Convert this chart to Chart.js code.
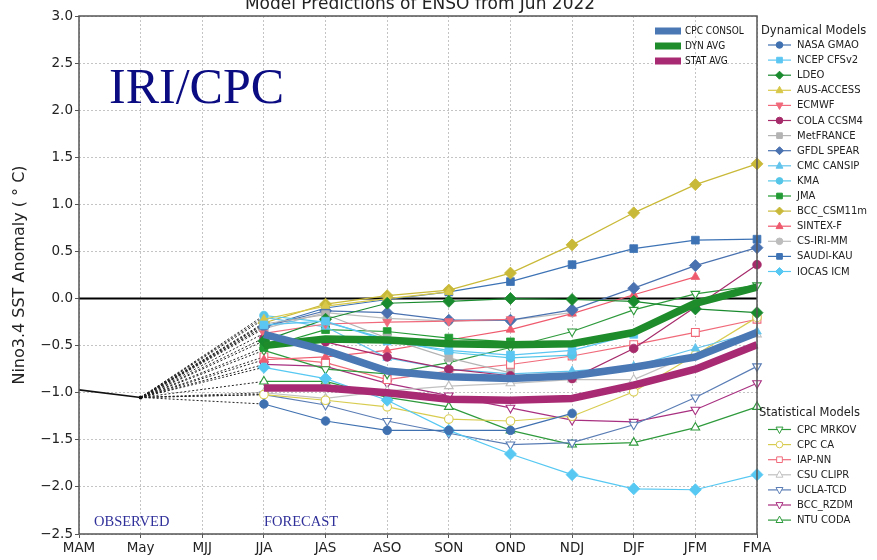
<!DOCTYPE html>
<html>
<head>
<meta charset="utf-8">
<script src="https://cdn.jsdelivr.net/npm/chart.js@4.4.0/dist/chart.umd.min.js"></script>
<style>
  body { margin: 0; background: #fff; }
  #wrap { width: 877px; height: 560px; position: relative; }
</style>
</head>
<body>
<div id="wrap"><canvas id="ensoChart" width="877" height="560"></canvas></div>
<script>
// seasons on the x axis
const months = ['MAM', 'May', 'MJJ', 'JJA', 'JAS', 'ASO', 'SON', 'OND', 'NDJ', 'DJF', 'JFM', 'FMA'];
const observed = [-0.97, -1.05];
const firstLead = 3; // forecasts start at JJA

// averages, JJA .. FMA
const cpcConsol = [-0.38, -0.55, -0.77, -0.83, -0.85, -0.82, -0.73, -0.62, -0.36];
const dynAvg    = [-0.50, -0.43, -0.44, -0.48, -0.49, -0.48, -0.36, -0.05, 0.12];
const statAvg   = [-0.95, -0.95, -1.00, -1.07, -1.08, -1.06, -0.92, -0.75, -0.49];

// dynamical models
const nasaGmao  = [-1.12, -1.30, -1.40, -1.40, -1.40, -1.22, null, null, null];
const ncepCfs   = [-0.28, -0.24, -0.45, -0.55, -0.60, -0.55, -0.38, null, null];
const ldeo      = [-0.45, -0.22, -0.05, -0.03, 0.00, -0.01, -0.03, -0.11, -0.15];
const ausAccess = [-0.22, -0.08, 0.00, 0.07, null, null, null, null, null];
const ecmwf     = [-0.37, -0.27, -0.25, -0.24, -0.22, null, null, null, null];
const colaCcsm4 = [-0.42, -0.46, -0.62, -0.75, -0.82, -0.85, -0.53, -0.09, 0.36];
const metFrance = [-0.27, -0.17, -0.42, -0.63, -0.79, null, null, null, null];
const gfdlSpear = [-0.30, -0.13, -0.15, -0.23, -0.23, -0.12, 0.11, 0.35, 0.54];
const cmcCansip = [-0.20, -0.30, -0.63, -0.75, -0.80, -0.77, -0.72, -0.53, -0.35];
const kma       = [-0.18, -0.25, -0.43, -0.57, -0.63, -0.60, null, null, null];
const jma       = [-0.52, -0.33, -0.35, -0.42, -0.46, null, null, null, null];
const bccCsm11m = [-0.26, -0.06, 0.03, 0.09, 0.27, 0.57, 0.91, 1.21, 1.43];
const sintexF   = [-0.65, -0.62, -0.55, -0.44, -0.33, -0.16, 0.04, 0.23, null];
const csIriMm   = [-0.32, -0.15, -0.21, -0.24, -0.23, -0.15, null, null, null];
const saudiKau  = [-0.30, -0.10, -0.01, 0.07, 0.18, 0.36, 0.53, 0.62, 0.63];
const iocasIcm  = [-0.73, -0.85, -1.08, -1.40, -1.65, -1.87, -2.02, -2.03, -1.87];

// statistical models
const cpcMrkov  = [-0.55, -0.75, -0.80, -0.68, -0.52, -0.35, -0.12, 0.05, 0.14];
const cpcCa     = [-1.02, -1.08, -1.15, -1.28, -1.30, -1.25, -0.99, -0.60, -0.20];
const iapNn     = [-0.62, -0.68, -0.86, -0.77, -0.70, -0.61, -0.49, -0.36, -0.22];
const csuClipr  = [-1.00, -1.06, -0.98, -0.93, -0.90, -0.86, -0.86, -0.58, -0.38];
const uclaTcd   = [-1.02, -1.13, -1.30, -1.43, -1.55, -1.53, -1.34, -1.05, -0.72];
const bccRzdm   = [-0.70, -0.72, -0.90, -1.03, -1.16, -1.29, -1.31, -1.18, -0.90];
const ntuCoda   = [-0.88, -0.88, -1.05, -1.15, -1.40, -1.55, -1.53, -1.37, -1.15];

// name, values, colour, marker, open marker, rotation
const dynModels = [
  ['NASA GMAO', nasaGmao, '#3f70b0', 'circle', false, 0],
  ['NCEP CFSv2', ncepCfs, '#5cc6f2', 'rect', false, 0],
  ['LDEO', ldeo, '#1a8a2e', 'rectRot', false, 0],
  ['AUS-ACCESS', ausAccess, '#d8c84a', 'triangle', false, 0],
  ['ECMWF', ecmwf, '#f06a7c', 'triangle', false, 180],
  ['COLA CCSM4', colaCcsm4, '#a62b6b', 'circle', false, 0],
  ['MetFRANCE', metFrance, '#b4b4b4', 'rect', false, 0],
  ['GFDL SPEAR', gfdlSpear, '#4a72b0', 'rectRot', false, 0],
  ['CMC CANSIP', cmcCansip, '#62c4ec', 'triangle', false, 0],
  ['KMA', kma, '#55c6e8', 'circle', false, 0],
  ['JMA', jma, '#239b35', 'rect', false, 0],
  ['BCC_CSM11m', bccCsm11m, '#c9b938', 'rectRot', false, 0],
  ['SINTEX-F', sintexF, '#ef5b6e', 'triangle', false, 0],
  ['CS-IRI-MM', csIriMm, '#bdbdbd', 'circle', false, 0],
  ['SAUDI-KAU', saudiKau, '#3d73b5', 'rect', false, 0],
  ['IOCAS ICM', iocasIcm, '#56c8f2', 'rectRot', false, 0]
];
const statModels = [
  ['CPC MRKOV', cpcMrkov, '#2e9a3c', 'triangle', true, 180],
  ['CPC CA', cpcCa, '#d8cc50', 'circle', true, 0],
  ['IAP-NN', iapNn, '#f06a7a', 'rect', true, 0],
  ['CSU CLIPR', csuClipr, '#c0c0c0', 'triangle', true, 0],
  ['UCLA-TCD', uclaTcd, '#5a7db5', 'triangle', true, 180],
  ['BCC_RZDM', bccRzdm, '#a83080', 'triangle', true, 180],
  ['NTU CODA', ntuCoda, '#2e9a3c', 'triangle', true, 0]
];
const averages = [
  ['CPC CONSOL', cpcConsol, '#4a78b4'],
  ['DYN AVG', dynAvg, '#1e8c2a'],
  ['STAT AVG', statAvg, '#a82a72']
];

const radiusFor = { circle: 4.3, rect: 5.5, rectRot: 6, triangle: 5 };

function padLead(vals) {
  const out = months.map(() => null);
  vals.forEach((v, i) => { out[firstLead + i] = v; });
  return out;
}

const datasets = [];
// observed line
datasets.push({
  label: 'observed', data: months.map((m, i) => i < observed.length ? observed[i] : null),
  borderColor: '#111', borderWidth: 1.6, pointRadius: [0, 2], pointBackgroundColor: '#111',
  pointBorderWidth: 0, order: 3
});
// dotted connectors from the last observation to each first lead
dynModels.concat(statModels).forEach(m => {
  const d = months.map(() => null);
  d[observed.length - 1] = observed[observed.length - 1];
  d[firstLead] = m[1][0];
  datasets.push({
    label: 'conn ' + m[0], data: d, spanGaps: true, borderColor: '#222', borderWidth: 1,
    borderDash: [2, 2], pointRadius: 0, order: 4
  });
});
dynModels.concat(statModels).forEach(m => {
  datasets.push({
    label: m[0], data: padLead(m[1]), borderColor: m[2], borderWidth: 1.2,
    pointStyle: m[3], pointRotation: m[5], pointRadius: radiusFor[m[3]],
    pointBackgroundColor: m[4] ? '#ffffff' : m[2], pointBorderColor: m[2],
    pointBorderWidth: m[4] ? 1.1 : 0.8, order: 2, clip: false
  });
});
averages.forEach(a => {
  datasets.push({
    label: a[0], data: padLead(a[1]), borderColor: a[2], borderWidth: 7.5,
    pointRadius: 0, order: 1, borderJoinStyle: 'round', clip: false
  });
});

function drawMarker(ctx, style, x, y, r, rot, open, color) {
  ctx.save();
  ctx.translate(x, y);
  ctx.rotate(rot * Math.PI / 180);
  ctx.beginPath();
  if (style === 'circle') {
    ctx.arc(0, 0, r, 0, Math.PI * 2);
  } else if (style === 'rect') {
    const s = r * Math.SQRT1_2;
    ctx.rect(-s, -s, 2 * s, 2 * s);
  } else if (style === 'rectRot') {
    ctx.moveTo(0, -r); ctx.lineTo(r, 0); ctx.lineTo(0, r); ctx.lineTo(-r, 0); ctx.closePath();
  } else {
    ctx.moveTo(0, -r); ctx.lineTo(r * 0.866, r * 0.6); ctx.lineTo(-r * 0.866, r * 0.6); ctx.closePath();
  }
  ctx.fillStyle = open ? '#fff' : color;
  ctx.strokeStyle = color;
  ctx.lineWidth = 1;
  ctx.fill();
  ctx.stroke();
  ctx.restore();
}

const decorations = {
  id: 'decorations',
  beforeDatasetsDraw(chart) {
    const { ctx, chartArea, scales } = chart;
    const y0 = scales.y.getPixelForValue(0);
    ctx.save();
    ctx.strokeStyle = '#000';
    ctx.lineWidth = 2;
    ctx.beginPath();
    ctx.moveTo(chartArea.left, y0);
    ctx.lineTo(chartArea.right, y0);
    ctx.stroke();
    ctx.restore();
  },
  afterDraw(chart) {
    const { ctx, chartArea } = chart;
    ctx.save();
    // frame
    ctx.strokeStyle = '#555';
    ctx.lineWidth = 1.5;
    ctx.strokeRect(chartArea.left, chartArea.top, chartArea.right - chartArea.left, chartArea.bottom - chartArea.top);

    // title, clipped by the top of the canvas
    ctx.fillStyle = '#222';
    ctx.font = '17px "DejaVu Sans"';
    ctx.textAlign = 'center';
    ctx.textBaseline = 'alphabetic';
    ctx.fillText('Model Predictions of ENSO from Jun 2022', 420, 9);

    // labels in the plot
    ctx.textAlign = 'left';
    ctx.fillStyle = '#0b0b82';
    ctx.font = '50px "Liberation Serif"';
    ctx.fillText('IRI/CPC', 109, 103);
    ctx.fillStyle = '#30309a';
    ctx.font = '14.5px "Liberation Serif"';
    ctx.fillText('OBSERVED', 94, 526);
    ctx.fillText('FORECAST', 264, 526);

    // averages legend
    ctx.font = '10px "DejaVu Sans Condensed"';
    ctx.textBaseline = 'middle';
    averages.forEach((a, i) => {
      const y = 31 + i * 15;
      ctx.fillStyle = a[2];
      ctx.fillRect(655, y - 3.5, 26, 7);
      ctx.fillStyle = '#111';
      ctx.fillText(a[0], 685, y + 0.5);
    });

    // model legends
    ctx.font = '11.5px "DejaVu Sans"';
    ctx.fillStyle = '#222';
    ctx.fillText('Dynamical Models', 761, 31);
    ctx.fillText('Statistical Models', 759, 413);
    const drawGroup = (list, top) => {
      list.forEach((m, i) => {
        const y = top + i * 15.1;
        ctx.strokeStyle = m[2];
        ctx.lineWidth = 1.2;
        ctx.beginPath();
        ctx.moveTo(768, y); ctx.lineTo(791, y);
        ctx.stroke();
        drawMarker(ctx, m[3], 779.5, y, m[3] === 'circle' ? 3.3 : 4, m[5], m[4], m[2]);
        ctx.fillStyle = '#222';
        ctx.font = '10px "DejaVu Sans"';
        ctx.fillText(m[0], 797, y + 0.5);
      });
    };
    drawGroup(dynModels, 45);
    drawGroup(statModels, 429.5);
    ctx.restore();
  }
};

const fmt = v => v.toFixed(1).replace('-', '\u2212');

new Chart(document.getElementById('ensoChart'), {
  type: 'line',
  data: { labels: months, datasets: datasets },
  options: {
    responsive: false,
    animation: false,
    devicePixelRatio: 1,
    layout: { padding: { top: 16, right: 120, bottom: 0, left: 10 } },
    plugins: { legend: { display: false }, tooltip: { enabled: false }, title: { display: false } },
    elements: { line: { tension: 0 } },
    scales: {
      x: {
        offset: false,
        grid: { color: '#c4c4c4', lineWidth: 1, tickLength: 4, tickColor: '#555' },
        border: { display: false, dash: [2, 2] },
        ticks: { color: '#222', font: { family: 'DejaVu Sans', size: 13.5 }, padding: 2, maxRotation: 0, autoSkip: false },
        afterFit(scale) { scale.height = 26; }
      },
      y: {
        min: -2.5, max: 3.0,
        grid: { color: '#c4c4c4', lineWidth: 1, tickLength: 4, tickColor: '#555' },
        border: { display: false, dash: [2, 2] },
        ticks: { stepSize: 0.5, color: '#222', font: { family: 'DejaVu Sans', size: 13.5 }, padding: 2, callback: v => fmt(v) },
        title: { display: true, text: 'Nino3.4 SST Anomaly ( \u00b0 C)', color: '#222', font: { family: 'DejaVu Sans', size: 16 }, padding: 0 },
        afterFit(scale) { scale.width = 69; }
      }
    }
  },
  plugins: [decorations]
});
</script>
</body>
</html>
